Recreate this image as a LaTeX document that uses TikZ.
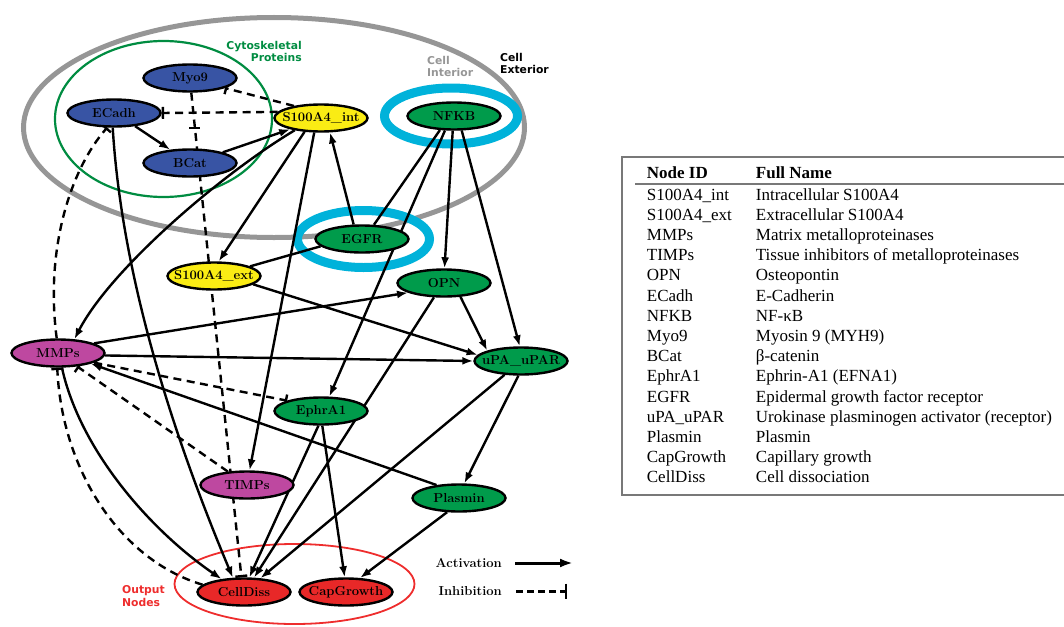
\documentclass[tikz,border=0pt]{standalone}
\usepackage{fontspec}
\usetikzlibrary{arrows.meta,shapes.geometric}
\newfontfamily\tabfont{Liberation Serif}
\newfontfamily\sanslab{DejaVu Sans}
\definecolor{nblue}{RGB}{56,84,164}
\definecolor{nyel}{RGB}{250,236,20}
\definecolor{ngreen}{RGB}{0,155,75}
\definecolor{nmag}{RGB}{190,72,160}
\definecolor{nred}{RGB}{232,40,40}
\definecolor{ringc}{RGB}{0,178,218}
\definecolor{cellgrey}{RGB}{150,150,150}
\definecolor{cytogreen}{RGB}{0,140,65}
\definecolor{outred}{RGB}{238,45,45}
\definecolor{tabgrey}{RGB}{120,120,120}
\newcommand{\mk}[1]{\makebox[0pt]{#1}}
\pgfdeclarelayer{bg}
\pgfdeclarelayer{edges}
\pgfsetlayers{bg,edges,main}
\tikzset{
  nd/.style={ellipse, draw=black, line width=2.4pt, minimum width=93pt, minimum height=27pt,
    inner sep=0pt, font=\fontsize{13}{15}\selectfont\bfseries},
  act/.style={line width=2.4pt, -{Latex[length=11pt,width=8pt]}},
  inh/.style={line width=2.4pt, dash pattern=on 8pt off 5.5pt, -{Bar[width=12pt]}},
  plain/.style={line width=2.4pt},
  lab/.style={font=\sanslab\fontsize{10.8}{12}\selectfont\bfseries, inner sep=0pt},
  lgd/.style={font=\fontsize{13}{15}\selectfont\bfseries, inner sep=0pt},
  tab/.style={font=\tabfont\fontsize{17}{20}\selectfont, inner sep=0pt, anchor=base west},
  tabline/.style={draw=tabgrey, line width=1.5pt},
}
\begin{document}
\begin{tikzpicture}[x=1pt,y=-1pt]
\useasboundingbox (0,0) rectangle (1064,626);

% nodes
\node[nd, fill=nblue] (myo) at (190,78) {\mk{Myo9}};
\node[nd, fill=nblue] (ecad) at (114,113) {\mk{ECadh}};
\node[nd, fill=nblue] (bcat) at (190,163) {\mk{BCat}};
\node[nd, fill=nyel] (s4i) at (321,118) {\mk{S100A4\_int}};
\node[nd, fill=ngreen] (nfkb) at (454,116) {\mk{NFKB}};
\node[nd, fill=ngreen] (egfr) at (362,239) {\mk{EGFR}};
\node[nd, fill=nyel] (s4e) at (214,276) {\mk{S100A4\_ext}};
\node[nd, fill=ngreen] (opn) at (444,283) {\mk{OPN}};
\node[nd, fill=nmag] (mmp) at (58,353) {\mk{MMPs}};
\node[nd, fill=ngreen] (upa) at (521,361) {\mk{uPA\_uPAR}};
\node[nd, fill=ngreen] (eph) at (321,411) {\mk{EphrA1}};
\node[nd, fill=nmag] (timp) at (247,485) {\mk{TIMPs}};
\node[nd, fill=ngreen] (pla) at (459,498) {\mk{Plasmin}};
\node[nd, fill=nred] (cd) at (244,592) {\mk{CellDiss}};
\node[nd, fill=nred] (capg) at (346,592) {\mk{CapGrowth}};

% background compartments
\begin{pgfonlayer}{bg}
\draw[cellgrey, line width=5pt] (274,127.5) ellipse [x radius=250.5, y radius=110];
\draw[cytogreen, line width=2.2pt] (163.5,119) ellipse [x radius=108.5, y radius=78];
\draw[outred, line width=1.8pt] (294.5,584) ellipse [x radius=120, y radius=40];
\draw[ringc, line width=9pt] (451,116) ellipse [x radius=66.5, y radius=28];
\draw[ringc, line width=9pt] (363.5,239) ellipse [x radius=66, y radius=28.5];
\end{pgfonlayer}

% labels
\node[lab, text=cytogreen, anchor=base east] (cyto1) at (302,49) {Cytoskeletal};
\node[lab, text=cytogreen, anchor=base east] (cyto2) at (302,61) {Proteins};
\node[lab, text=cellgrey, anchor=base west] (ci1) at (427,64) {Cell};
\node[lab, text=cellgrey, anchor=base west] (ci2) at (427,76) {Interior};
\node[lab, text=black, anchor=base west] (ce1) at (500,62) {Cell};
\node[lab, text=black, anchor=base west] (ce2) at (500,74) {Exterior};
\node[lab, text=outred, anchor=base west] (on1) at (122,593) {Output};
\node[lab, text=outred, anchor=base west] (on2) at (122,606) {Nodes};

% edges
\begin{pgfonlayer}{edges}
\draw[inh] (s4i.156) -- (myo.-16);
\draw[inh] (s4i.172) -- (ecad.0);
\draw[act] (ecad.-32) -- (bcat.146);
\draw[act] (bcat.18) -- (s4i.-160);
\draw[inh] (myo.-85) -- (cd.100);
\coordinate (xb) at (194.5,128);
\draw[line width=2.4pt] (xb) ++(-5.5pt,0) -- ++(11pt,0);
\draw[act] (ecad.-95) .. controls (122,280) and (175,440) .. (cd.128);
\draw[inh] (mmp.95) .. controls (45,250) and (70,170) .. (ecad.-115);
\draw[act] (s4i.-155) .. controls (220,175) and (110,270) .. (mmp.40);
\draw[act] (s4i.-140) -- (s4e.72);
\draw[act] (s4i.-115) -- (timp.80);
\draw[act] (egfr.120) -- (s4i.-58);
\draw[plain] (s4e.15) -- (egfr.190);
\draw[plain] (nfkb.-135) -- (egfr.50);
\draw[act] (nfkb.-122) -- (eph.60);
\draw[act] (nfkb.-95) -- (opn.88);
\draw[act] (nfkb.-62) -- (upa.95);
\draw[act] (opn.-40) -- (upa.163);
\draw[act] (s4e.-12) -- (upa.172);
\draw[act] (opn.-125) -- (cd.55);
\draw[act] (mmp.15) -- (opn.195);
\draw[act] (mmp.-3) -- (upa.180);
\draw[inh] (mmp.-15) -- (eph.163);
\draw[act] (pla.150) -- (mmp.-18);
\draw[inh] (timp.145) -- (mmp.-35);
\draw[act] (mmp.-75) .. controls (80,450) and (150,530) .. (cd.150);
\draw[inh] (cd.170) .. controls (120,560) and (62,470) .. (mmp.-93);
\draw[act] (eph.-100) -- (cd.70);
\draw[act] (eph.-85) -- (capg.95);
\draw[act] (upa.-140) -- (cd.40);
\draw[act] (upa.-100) -- (pla.70);
\draw[act] (pla.-130) -- (capg.45);
\end{pgfonlayer}

% legend
\node[lgd, anchor=east] (lact) at (502,563) {Activation};
\node[lgd, anchor=east] (linh) at (502,591) {Inhibition};
\draw[line width=3pt, -{Latex[length=13pt,width=9pt]}] ([xshift=13pt]lact.east) -- ++(58pt,0);
\draw[line width=3pt, dash pattern=on 6.5pt off 4.5pt, -{Bar[width=15pt,line width=2pt]}] ([xshift=14pt]linh.east) -- ++(51pt,0);

% table
\draw[tabline] (1070,157) -- (622,157) -- (622,495) -- (1070,495);
\draw[tabline] (635,184) -- (1070,184);
\node[tab, font=\tabfont\bfseries\fontsize{17}{20}\selectfont] (h1) at (646.7,178) {Node ID};
\node[tab, font=\tabfont\bfseries\fontsize{17}{20}\selectfont] (h2) at (755.7,178) {Full Name};
\foreach \a/\b [count=\i] in {S100A4\_int/Intracellular S100A4,
  S100A4\_ext/Extracellular S100A4,
  MMPs/Matrix metalloproteinases,
  TIMPs/Tissue inhibitors of metalloproteinases,
  OPN/Osteopontin,
  ECadh/E-Cadherin,
  NFKB/NF-κB,
  Myo9/Myosin 9 (MYH9),
  BCat/β-catenin,
  EphrA1/Ephrin-A1 (EFNA1),
  EGFR/Epidermal growth factor receptor,
  uPA\_uPAR/Urokinase plasminogen activator (receptor),
  Plasmin/Plasmin,
  CapGrowth/Capillary growth,
  CellDiss/Cell dissociation}{
  \node[tab] (ra\i) at (646.7,{200+(\i-1)*20.2}) {\a};
  \node[tab] (rb\i) at (755.7,{200+(\i-1)*20.2}) {\b};
}
\end{tikzpicture}
\end{document}
